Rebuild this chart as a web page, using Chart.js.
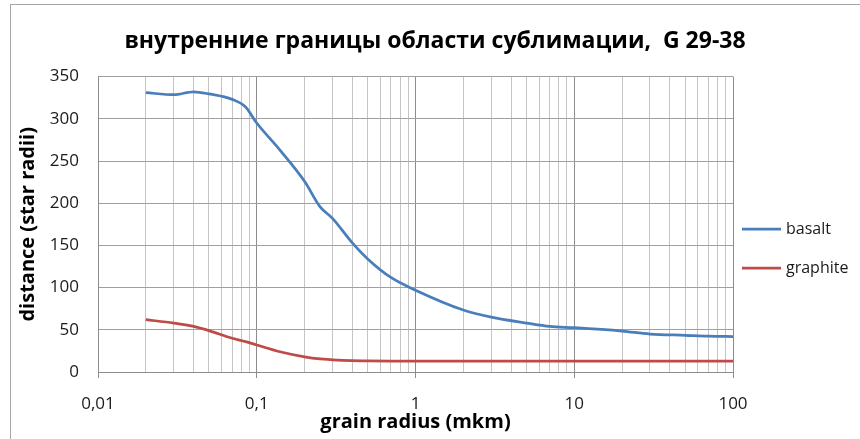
<!DOCTYPE html>
<html><head><meta charset="utf-8">
<script src="https://cdn.jsdelivr.net/npm/chart.js@4"></script>
<style>html,body{margin:0;padding:0;background:#fff}#wrap{width:860px;height:439px;position:relative}</style>
</head><body><div id="wrap"><canvas id="c" width="860" height="439"></canvas></div>
<script>
const chartTitle = 'внутренние границы области сублимации,  G 29-38';
const seriesNames = ['basalt', 'graphite'];
const grainRadius = [0.02,0.03,0.04,0.05,0.07,0.085,0.1,0.14,0.2,0.25,0.3,0.4,0.5,0.7,1,2,3,5,7,10,20,30,50,70,100];
const basalt   = [331,328.5,332,329.5,323,314,295,263,226,196,182,153,134,112,97,73.5,65,58,54,52.5,48.5,45,43.5,42.5,42];
const graphite = [62,58,54,49,40,36,32,24,18,15.5,14.5,13.5,13.2,13,13,13,13,13,13,13,13,13,13,13,13];
const xMajorTicks = [0.01, 0.1, 1, 10, 100];
const xTickLabels = ['0,01', '0,1', '1', '10', '100'];
const yTicks = [0, 50, 100, 150, 200, 250, 300, 350];

const FONT = '"Open Sans"';
const isMajor = v => xMajorTicks.some(m => Math.abs(m - v) < m * 1e-6);

const framePlugin = {
  id: 'frame',
  beforeDraw(chart) {
    const c = chart.ctx;
    c.save();
    c.fillStyle = '#fff';
    c.fillRect(0, 0, chart.width, chart.height);
    c.strokeStyle = '#a6a6a6';
    c.lineWidth = 1;
    c.strokeRect(10.5, 4.5, chart.width + 20, chart.height + 20);
    c.restore();
  }
};

const legendPlugin = {
  id: 'sideLegend',
  afterDraw(chart) {
    const c = chart.ctx;
    const area = chart.chartArea;
    c.save();
    chart.data.datasets.forEach((ds, i) => {
      const y = 229 + i * 39;
      const x0 = area.right + 9;
      c.strokeStyle = ds.borderColor;
      c.lineWidth = 2.75;
      c.beginPath();
      c.moveTo(x0, y);
      c.lineTo(x0 + 39, y);
      c.stroke();
      c.fillStyle = '#1a1a1a';
      c.font = '16px ' + FONT;
      c.textBaseline = 'middle';
      c.textAlign = 'left';
      c.fillText(ds.label, x0 + 44, y);
    });
    c.restore();
  }
};

const toPoints = ys => grainRadius.map((x, i) => ({ x, y: ys[i] }));

new Chart(document.getElementById('c'), {
  type: 'line',
  data: {
    datasets: [
      { label: seriesNames[0], data: toPoints(basalt), borderColor: '#4a7ebb', borderWidth: 2.75, pointRadius: 0, cubicInterpolationMode: 'monotone', fill: false },
      { label: seriesNames[1], data: toPoints(graphite), borderColor: '#be4b48', borderWidth: 2.75, pointRadius: 0, cubicInterpolationMode: 'monotone', fill: false }
    ]
  },
  options: {
    responsive: false,
    animation: false,
    devicePixelRatio: 1,
    layout: { padding: { left: 10, right: 0, top: 0, bottom: 0 } },
    plugins: {
      legend: { display: false },
      tooltip: { enabled: false },
      title: {
        display: true, text: chartTitle, color: '#000',
        font: { family: FONT, size: 23, weight: 'bold' },
        padding: { top: 28, bottom: 21 }
      }
    },
    scales: {
      x: {
        type: 'logarithmic', min: 0.01, max: 100,
        afterBuildTicks(s) {
          const t = [];
          for (let e = -2; e <= 1; e++) for (let k = 1; k <= 9; k++) t.push(k * Math.pow(10, e));
          t.push(100);
          s.ticks = t.map(v => ({ value: v, major: isMajor(v) }));
        },
        afterFit(s) { s.height = 67; },
        grid: {
          color: ctx => (ctx.tick && isMajor(ctx.tick.value)) ? '#8c8c8c' : '#c4c4c4',
          tickColor: ctx => (ctx.tick && isMajor(ctx.tick.value)) ? '#8c8c8c' : 'rgba(0,0,0,0)',
          tickLength: 6, lineWidth: 1
        },
        border: { color: '#8c8c8c' },
        ticks: {
          autoSkip: false, maxRotation: 0, padding: 16, color: '#1a1a1a',
          font: { family: FONT, size: 17 },
          callback: (v) => { const i = xMajorTicks.findIndex(m => Math.abs(m - v) < m * 1e-6); return i >= 0 ? xTickLabels[i] : ''; }
        },
        title: { display: true, text: 'grain radius (mkm)', color: '#000', font: { family: FONT, size: 20, weight: 'bold' }, padding: { top: 0, bottom: 5 } }
      },
      y: {
        min: 0, max: 350,
        afterBuildTicks(s) { s.ticks = yTicks.map(v => ({ value: v })); },
        afterFit(s) { s.width = 88; },
        grid: { color: '#a0a0a0', drawTicks: false, lineWidth: 1 },
        border: { color: '#8c8c8c' },
        ticks: { padding: 19, color: '#1a1a1a', font: { family: FONT, size: 17 } },
        title: { display: true, text: 'distance (star radii)', color: '#000', font: { family: FONT, size: 20, weight: 'bold' }, padding: { top: 6, bottom: 0 } }
      },
      yR: {
        position: 'right', display: true,
        grid: { display: false }, border: { display: false }, ticks: { display: false },
        afterFit(s) { s.width = 127; }
      }
    }
  },
  plugins: [framePlugin, legendPlugin]
});
</script>
</body></html>
